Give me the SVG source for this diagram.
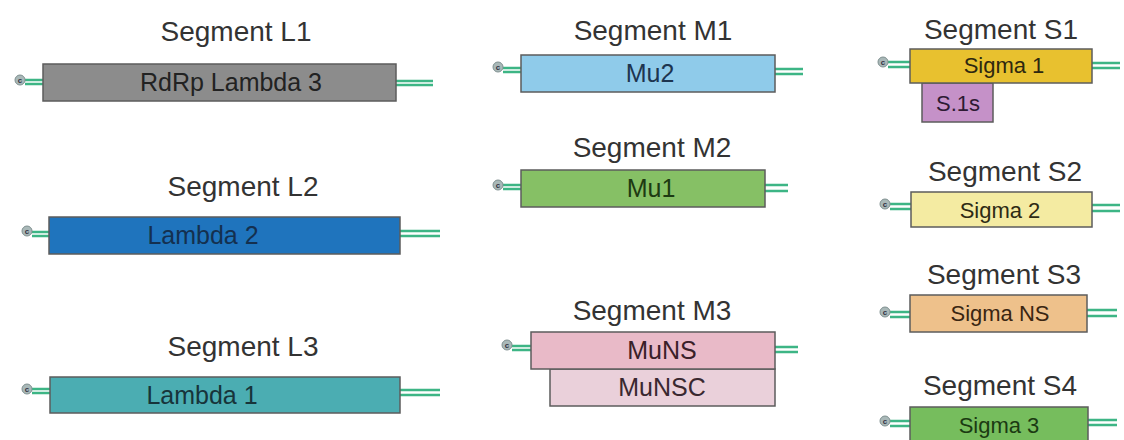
<svg xmlns="http://www.w3.org/2000/svg" width="1124" height="440" viewBox="0 0 1124 440">
<style>
.title{font-family:"Liberation Sans",Arial,sans-serif;font-size:28px;fill:#333;text-anchor:middle}
.lbl{font-family:"Liberation Sans",Arial,sans-serif;font-size:25px;fill:#222;text-anchor:middle}
.slbl{font-family:"Liberation Sans",Arial,sans-serif;font-size:22px;fill:#222;text-anchor:middle}
.box{stroke:#5c5c5c;stroke-width:1.5}
.ln{stroke:#3db585;stroke-width:2.3;fill:none}
.cap{fill:#a9b8b8;stroke:#7f9090;stroke-width:1}
.capt{font-family:"Liberation Sans",Arial,sans-serif;font-size:8px;font-weight:bold;fill:#334;text-anchor:middle}
</style>
<rect width="1124" height="440" fill="#ffffff"/>
<g id="connectors">
  <path class="ln" d="M25 80H43M25 84H43M396 81H433M396 85H433"/>
  <path class="ln" d="M32 232H49M32 236H49M400 231H440M400 236H440"/>
  <path class="ln" d="M32 389H50M32 393H50M400 390H440M400 395H440"/>
  <path class="ln" d="M503 68H521M503 72H521M775 69H803M775 74H803"/>
  <path class="ln" d="M503 185H521M503 189H521M765 185H788M765 191H788"/>
  <path class="ln" d="M512 346H531M512 350H531M775 347H798M775 352H798"/>
  <path class="ln" d="M888 62H910M888 67H910M1092 63H1120M1092 68H1120"/>
  <path class="ln" d="M890 204H911M890 209H911M1092 205H1120M1092 211H1120"/>
  <path class="ln" d="M890 312H910M890 317H910M1087 310H1117M1087 316H1117"/>
  <path class="ln" d="M890 421H910M890 426H910M1088 420H1117M1088 425H1117"/>
</g>
<g id="segL1">
  <text class="title" x="236" y="41">Segment L1</text>
  <circle class="cap" cx="20" cy="80" r="5"/><text class="capt" x="20" y="83">c</text>
  <rect class="box" x="43" y="64" width="353" height="37" fill="#8c8c8c"/>
  <text class="lbl" x="231" y="91">RdRp Lambda 3</text>
</g>
<g id="segL2">
  <text class="title" x="243" y="196">Segment L2</text>
  <circle class="cap" cx="27" cy="231" r="5"/><text class="capt" x="27" y="234">c</text>
  <rect class="box" x="49" y="217" width="351" height="37" fill="#1f74bd"/>
  <text class="lbl" x="203" y="244" style="fill:#14304f">Lambda 2</text>
</g>
<g id="segL3">
  <text class="title" x="243" y="356">Segment L3</text>
  <circle class="cap" cx="27" cy="389" r="5"/><text class="capt" x="27" y="392">c</text>
  <rect class="box" x="50" y="377" width="350" height="36" fill="#4badb2"/>
  <text class="lbl" x="202" y="404" style="fill:#17343a">Lambda 1</text>
</g>
<g id="segM1">
  <text class="title" x="653" y="40">Segment M1</text>
  <circle class="cap" cx="498" cy="67" r="5"/><text class="capt" x="498" y="70">c</text>
  <rect class="box" x="521" y="55" width="254" height="37" fill="#8fcbea"/>
  <text class="lbl" x="650" y="82" style="fill:#1d3550">Mu2</text>
</g>
<g id="segM2">
  <text class="title" x="652" y="157">Segment M2</text>
  <circle class="cap" cx="498" cy="185" r="5"/><text class="capt" x="498" y="188">c</text>
  <rect class="box" x="521" y="170" width="244" height="37" fill="#86c065"/>
  <text class="lbl" x="651" y="197" style="fill:#1d3a12">Mu1</text>
</g>
<g id="segM3">
  <text class="title" x="652" y="320">Segment M3</text>
  <circle class="cap" cx="507" cy="345" r="5"/><text class="capt" x="507" y="348">c</text>
  <rect class="box" x="550" y="369" width="225" height="37" fill="#ead0da"/>
  <rect class="box" x="531" y="332" width="244" height="37" fill="#e9bac8"/>
  <text class="lbl" x="662" y="359" style="fill:#3a2028">MuNS</text>
  <text class="lbl" x="662" y="396" style="fill:#3a2830">MuNSC</text>
</g>
<g id="segS1">
  <text class="title" x="1001" y="39">Segment S1</text>
  <circle class="cap" cx="883" cy="62" r="5"/><text class="capt" x="883" y="65">c</text>
  <rect class="box" x="922" y="83" width="71" height="39" fill="#c591c8"/>
  <rect class="box" x="910" y="49" width="182" height="34" fill="#e8c12f"/>
  <text class="slbl" x="1004" y="73" style="fill:#2e2810">Sigma 1</text>
  <text class="slbl" x="958" y="111" style="fill:#2e1a33">S.1s</text>
</g>
<g id="segS2">
  <text class="title" x="1005" y="181">Segment S2</text>
  <circle class="cap" cx="885" cy="204" r="5"/><text class="capt" x="885" y="207">c</text>
  <rect class="box" x="911" y="192" width="181" height="35" fill="#f4eba2"/>
  <text class="slbl" x="1000" y="218" style="fill:#2e2a14">Sigma 2</text>
</g>
<g id="segS3">
  <text class="title" x="1004" y="284">Segment S3</text>
  <circle class="cap" cx="885" cy="312" r="5"/><text class="capt" x="885" y="315">c</text>
  <rect class="box" x="910" y="295" width="177" height="37" fill="#eec18b"/>
  <text class="slbl" x="1000" y="321" style="fill:#3a2612">Sigma NS</text>
</g>
<g id="segS4">
  <text class="title" x="1000" y="395">Segment S4</text>
  <circle class="cap" cx="885" cy="421" r="5"/><text class="capt" x="885" y="424">c</text>
  <rect class="box" x="910" y="407" width="178" height="40" fill="#76bd5d"/>
  <text class="slbl" x="999" y="433" style="fill:#1b3a12">Sigma 3</text>
</g>
</svg>
